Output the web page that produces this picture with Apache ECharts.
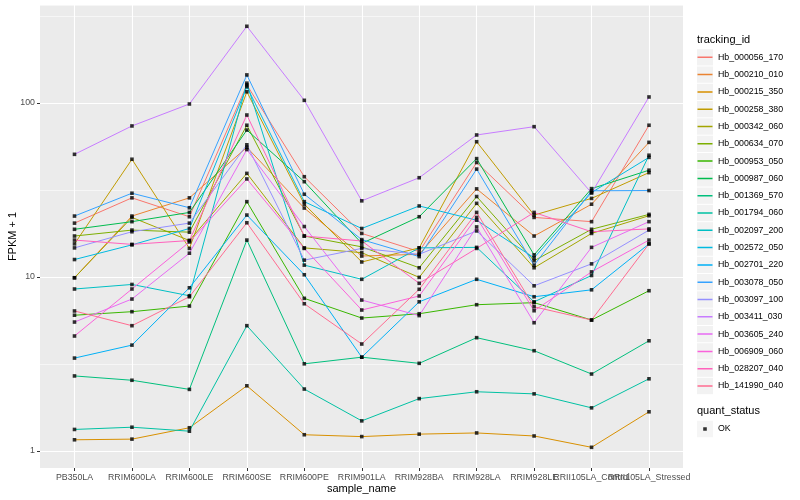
<!DOCTYPE html>
<html><head><meta charset="utf-8">
<script src="https://cdn.jsdelivr.net/npm/echarts@6/dist/echarts.min.js"></script>
<style>html,body{margin:0;padding:0;background:#fff}#c{width:800px;height:500px}</style>
</head><body><div id="c"></div>
<script>
const categories = ['PB350LA','RRIM600LA','RRIM600LE','RRIM600SE','RRIM600PE','RRIM901LA','RRIM928BA','RRIM928LA','RRIM928LE','RRII105LA_Control','RRII105LA_Stressed'];
const trackingIds = ['Hb_000056_170','Hb_000210_010','Hb_000215_350','Hb_000258_380','Hb_000342_060','Hb_000634_070','Hb_000953_050','Hb_000987_060','Hb_001369_570','Hb_001794_060','Hb_002097_200','Hb_002572_050','Hb_002701_220','Hb_003078_050','Hb_003097_100','Hb_003411_030','Hb_003605_240','Hb_006909_060','Hb_028207_040','Hb_141990_040'];
const colors = ['#F8766D','#EA8331','#D89000','#C09B00','#A3A500','#7CAE00','#39B600','#00BB4E','#00BF7D','#00C1A3','#00BFC4','#00BAE0','#00B0F6','#35A2FF','#9590FF','#C77CFF','#E76BF3','#FA62DB','#FF62BC','#FF6C91'];
const yTicks = [1, 10, 100];

const Hb_000056_170 = [20.4, 28.5, 22.2, 127, 37.7, 17.8, 14.0, 45.5, 22.0, 20.8, 74.5];
const Hb_000210_010 = [9.9, 22.4, 28.5, 55.6, 24.9, 13.2, 13.5, 32.1, 17.2, 26.2, 59.4];
const Hb_000215_350 = [1.16, 1.17, 1.36, 2.37, 1.24, 1.21, 1.25, 1.27, 1.22, 1.05, 1.68];
const Hb_000258_380 = [15.5, 47.5, 14.6, 116, 26.2, 12.2, 14.7, 59.9, 22.7, 28.3, 39.8];
const Hb_000342_060 = [9.9, 22.0, 16.2, 39.4, 14.7, 13.8, 9.95, 26.5, 11.3, 17.8, 22.5];
const Hb_000634_070 = [17.2, 18.6, 18.1, 74.5, 17.2, 14.9, 11.3, 29.0, 12.4, 18.8, 22.9];
const Hb_000953_050 = [6.03, 6.32, 6.81, 27.1, 7.54, 5.81, 6.15, 6.93, 7.12, 5.66, 8.34];
const Hb_000987_060 = [18.8, 20.8, 23.5, 69.9, 35.3, 15.6, 22.2, 47.9, 13.4, 32.2, 41.1];
const Hb_001369_570 = [2.70, 2.55, 2.26, 16.3, 3.17, 3.46, 3.19, 4.48, 3.77, 2.77, 4.30];
const Hb_001794_060 = [1.33, 1.37, 1.30, 5.25, 2.27, 1.49, 2.00, 2.19, 2.13, 1.77, 2.60];
const Hb_002097_200 = [8.53, 9.06, 7.8, 130, 11.7, 9.7, 14.7, 14.8, 7.2, 10.2, 50.1];
const Hb_002572_050 = [12.6, 15.3, 19.0, 124, 27.1, 19.0, 25.6, 21.2, 12.9, 30.6, 48.7];
const Hb_002701_220 = [3.42, 4.06, 8.67, 22.7, 10.3, 3.46, 7.2, 9.7, 7.7, 8.44, 15.5];
const Hb_003078_050 = [22.4, 30.3, 25.0, 145, 29.9, 16.4, 13.1, 41.7, 11.7, 31.3, 31.4];
const Hb_003097_100 = [14.7, 18.2, 20.4, 57.5, 12.5, 14.6, 13.5, 18.4, 8.9, 11.9, 18.6];
const Hb_003411_030 = [50.7, 73.8, 98.7, 276, 103.6, 27.4, 37.2, 65.5, 73.1, 30.4, 108.3];
const Hb_003605_240 = [5.51, 7.47, 13.7, 54.0, 19.5, 7.37, 6.0, 19.4, 5.46, 14.8, 20.8];
const Hb_006909_060 = [4.58, 8.53, 15.9, 36.6, 14.6, 6.46, 7.78, 22.0, 6.4, 10.7, 16.3];
const Hb_028207_040 = [16.3, 15.4, 16.2, 85.3, 17.2, 16.1, 9.2, 14.6, 23.5, 18.2, 18.9];
const Hb_141990_040 = [6.38, 5.25, 7.7, 20.5, 7.02, 4.12, 8.5, 23.5, 6.74, 5.66, 15.5];

const seriesValues = [Hb_000056_170, Hb_000210_010, Hb_000215_350, Hb_000258_380, Hb_000342_060, Hb_000634_070, Hb_000953_050, Hb_000987_060, Hb_001369_570, Hb_001794_060, Hb_002097_200, Hb_002572_050, Hb_002701_220, Hb_003078_050, Hb_003097_100, Hb_003411_030, Hb_003605_240, Hb_006909_060, Hb_028207_040, Hb_141990_040];

const FONT = 'Liberation Sans, Arial, Helvetica, sans-serif';
const yMin = Math.pow(10, -17 / 174);
const yMax = Math.pow(10, 446 / 174);
const isTick = v => yTicks.some(t => Math.abs(t - v) / t < 1e-6);

const lineIcon = 'path://M0,0h0.01v0.01h-0.01zM0.5,7.4h15v1.5h-15zM15.99,16.29h0.01v0.01h-0.01z';
const dotIcon = 'path://M0,0h0.01v0.01h-0.01zM6.2,6.4h3.6v3.6h-3.6zM15.99,16.29h0.01v0.01h-0.01z';

const lineSeries = trackingIds.map((id, i) => ({
  name: id, type: 'line', xAxisIndex: 1, yAxisIndex: 2,
  color: colors[i], showSymbol: false, symbol: 'none',
  lineStyle: { width: 1, color: colors[i] }, itemStyle: { color: colors[i] },
  data: seriesValues[i], z: 2, silent: true
}));
const pointData = [];
seriesValues.forEach(vals => vals.forEach((v, j) => pointData.push([categories[j], v])));

const legendCommon = { orient: 'vertical', left: 697, padding: 0, itemWidth: 16, itemHeight: 16.3, itemGap: 1, symbolKeepAspect: false, selectedMode: false };

const option = {
  animation: false,
  backgroundColor: '#fff',
  grid: [
    { left: 40, right: 117, top: 5, bottom: 32, show: true, backgroundColor: '#EBEBEB', borderWidth: 0 },
    { left: 74.5, right: 151, top: 5, bottom: 32 }
  ],
  xAxis: [
    { type: 'value', gridIndex: 0, show: false },
    { type: 'category', gridIndex: 1, data: categories, boundaryGap: false,
      axisLine: { show: false },
      axisTick: { show: true, length: 3, interval: 0, lineStyle: { color: '#333', width: 1 } },
      axisLabel: { interval: 0, color: '#4D4D4D', fontSize: 8.8, fontFamily: FONT, margin: 5, hideOverlap: false },
      splitLine: { show: true, interval: 0, lineStyle: { color: '#fff', width: 1.1 } } }
  ],
  yAxis: [
    { type: 'log', logBase: Math.sqrt(10), gridIndex: 0, min: yMin, max: yMax,
      axisLine: { show: false }, axisTick: { show: false }, axisLabel: { show: false },
      splitLine: { show: true, lineStyle: { color: '#fff', width: 0.55 } } },
    { type: 'log', logBase: 10, gridIndex: 0, min: yMin, max: yMax, position: 'left',
      axisLine: { show: false },
      axisTick: { show: true, length: 3, customValues: yTicks, lineStyle: { color: '#333', width: 1 } },
      axisLabel: { customValues: yTicks, color: '#4D4D4D', fontSize: 8.8, fontFamily: FONT, margin: 5,
        formatter: v => isTick(v) ? String(Math.round(v)) : '' },
      splitLine: { show: true, lineStyle: { color: '#fff', width: 1.1 } } },
    { type: 'log', logBase: 10, gridIndex: 1, min: yMin, max: yMax, show: false }
  ],
  legend: [
    Object.assign({}, legendCommon, { top: 49.15, data: trackingIds, icon: 'rect',
      itemStyle: { color: '#F2F2F2', borderWidth: 0 }, formatter: () => '', textStyle: { color: 'rgba(0,0,0,0)' } }),
    Object.assign({}, legendCommon, { top: 49.15, data: trackingIds, icon: lineIcon,
      itemStyle: { borderWidth: 0 }, textStyle: { color: '#000', fontSize: 8.8, fontFamily: FONT } }),
    Object.assign({}, legendCommon, { top: 420.85, data: ['OK'], icon: 'rect',
      itemStyle: { color: '#F2F2F2', borderWidth: 0 }, formatter: () => '', textStyle: { color: 'rgba(0,0,0,0)' } }),
    Object.assign({}, legendCommon, { top: 420.85, data: ['OK'], icon: dotIcon,
      itemStyle: { borderWidth: 0 }, textStyle: { color: '#000', fontSize: 8.8, fontFamily: FONT } })
  ],
  graphic: [
    { type: 'text', left: 697, top: 34.5, style: { text: 'tracking_id', fontSize: 11, fontFamily: FONT, fill: '#000' } },
    { type: 'text', left: 697, top: 405.5, style: { text: 'quant_status', fontSize: 11, fontFamily: FONT, fill: '#000' } },
    { type: 'text', x: 361.5, y: 489, style: { text: 'sample_name', fontSize: 11, fontFamily: FONT, fill: '#000', align: 'center', verticalAlign: 'middle' } },
    { type: 'text', x: 13, y: 236.5, rotation: Math.PI / 2, style: { text: 'FPKM + 1', fontSize: 11, fontFamily: FONT, fill: '#000', align: 'center', verticalAlign: 'middle' } }
  ],
  series: lineSeries.concat([{
    name: 'OK', type: 'scatter', xAxisIndex: 1, yAxisIndex: 2, symbol: 'rect', symbolSize: 3.6,
    itemStyle: { color: '#000' }, data: pointData, z: 3, silent: true
  }])
};
const chart = echarts.init(document.getElementById('c'), null, { renderer: 'canvas' });
chart.setOption(option);
</script></body></html>
